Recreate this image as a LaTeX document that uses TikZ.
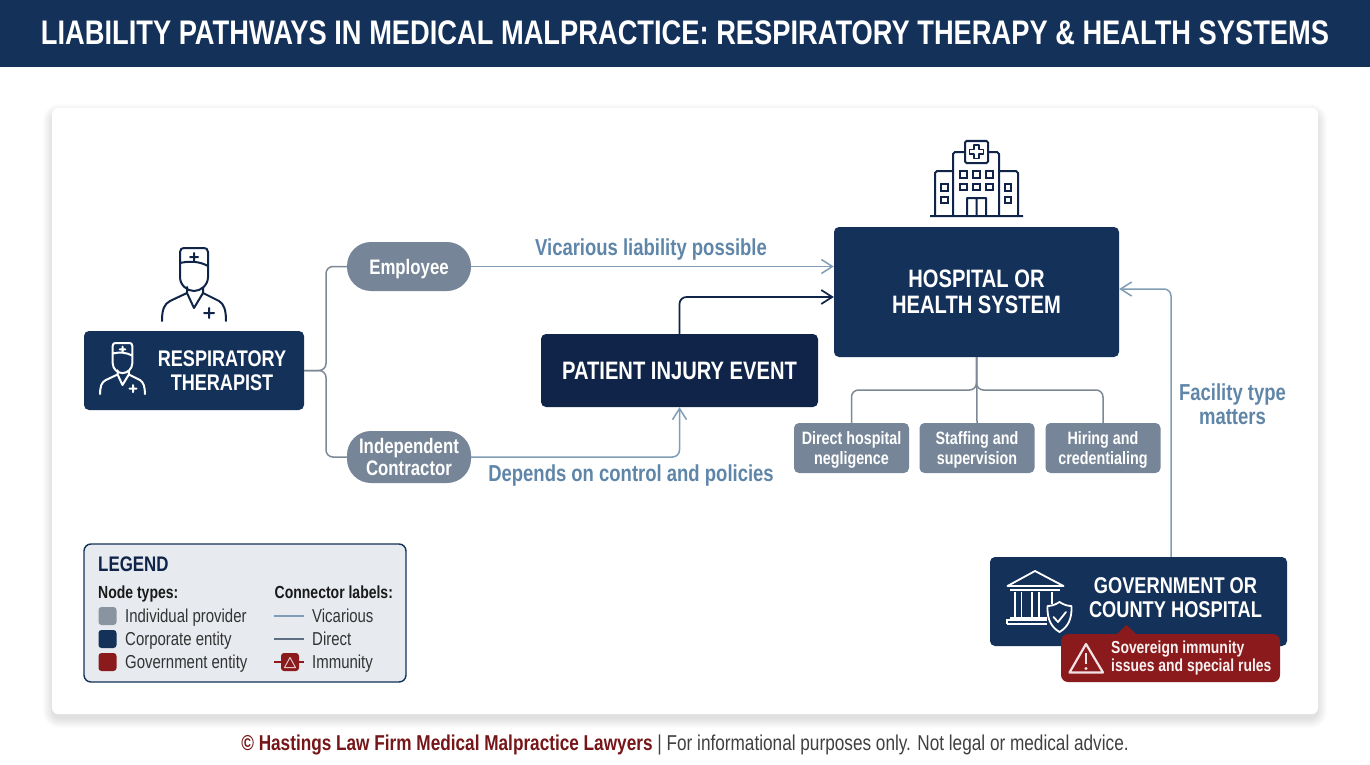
\documentclass[tikz,border=0pt]{standalone}
\usepackage{fontspec}
\setmainfont[FakeStretch=0.8]{Liberation Sans}
\usetikzlibrary{arrows.meta}

\definecolor{navy}{HTML}{14315A}
\definecolor{deepnavy}{HTML}{0F2448}
\definecolor{slategrey}{HTML}{768698}
\definecolor{swatchgrey}{HTML}{8A94A0}
\definecolor{wiregrey}{HTML}{7C8894}
\definecolor{steel}{HTML}{7F9DB6}
\definecolor{labelblue}{HTML}{5F86A9}
\definecolor{govred}{HTML}{8B1A1C}
\definecolor{legendfill}{HTML}{E7EAEF}

\tikzset{
  box/.style={draw=none,fill=navy,text=white,rounded corners=5pt,align=center,font=\bfseries\fontsize{25.2}{26}\selectfont},
  pillnode/.style={fill=slategrey,text=white,rounded corners=24pt,align=center,minimum width=124pt,text depth=0pt,font=\bfseries\fontsize{21}{22}\selectfont},
  subnode/.style={fill=slategrey,text=white,rounded corners=5pt,align=center,minimum width=115pt,minimum height=50pt,text depth=0pt,font=\bfseries\fontsize{17.9}{20}\selectfont},
  flowlabel/.style={text=labelblue,align=center,font=\bfseries\fontsize{23.1}{24}\selectfont},
  legendtext/.style={anchor=base west,text=black!80,font=\fontsize{18.7}{19}\selectfont},
  legendhead/.style={anchor=base west,text=black!90,font=\bfseries\fontsize{17.5}{19}\selectfont},
  swatch/.style={rounded corners=3pt,minimum size=18pt,inner sep=0pt},
  >={Straight Barb[length=11pt,width=14pt]},
  treeline/.style={draw=wiregrey,line width=1.5pt,rounded corners=7pt},
  softlink/.style={draw=steel,line width=1.5pt,rounded corners=7pt,->},
  hardlink/.style={draw=deepnavy,line width=1.7pt,rounded corners=7pt,->},
  nurseicon/.pic={
    \draw[pic actions,line width=2pt,line join=round,line cap=round]
      (-14,15) -- (-14,4) .. controls (-14,1) and (-12,0) .. (-10,0) -- (10,0) .. controls (12,0) and (14,1) .. (14,4) -- (14,18)
      (-14,15) .. controls (-5,13) and (5,13) .. (14,18)
      (-14,15) -- (-14,29) .. controls (-14,37) and (-7,43) .. (0,43) .. controls (7,43) and (14,37) .. (14,29) -- (14,18)
      (-7,39) -- (-7,45) -- (0,60) -- (9,45) -- (9,39)
      (-7,45) -- (-24,53) .. controls (-30,56) and (-32,62) .. (-32,73)
      (9,45) -- (25,53) .. controls (30,56) and (32,62) .. (32,73)
      (0,5) -- (0,13) (-4,9) -- (4,9)
      (15,60) -- (15,70) (10,65) -- (20,65);
  },
  hospitalicon/.pic={
    \draw[pic actions,line width=2pt,line join=round]
      (930,216) -- (1023,216)
      (935,216) -- (935,173) -- ++(2,-2) -- (953,171)
      (953,216) -- (953,154) -- ++(2,-2) -- (965,152)
      (988,152) -- (997,152) -- ++(2,2) -- (999,216)
      (999,171) -- (1016,171) -- ++(2,2) -- (1018,216)
      (967,216) -- (967,198) -- (986,198) -- (986,216) (976.5,198) -- (976.5,216);
    \draw[pic actions,line width=2pt,rounded corners=1.5pt] (965,141) rectangle (988,163);
    \draw[pic actions,line width=1.8pt,line join=round]
      (974,145) -- (979,145) -- (979,149.5) -- (983.5,149.5) -- (983.5,154) -- (979,154) -- (979,158.5) -- (974,158.5) -- (974,154) -- (969.5,154) -- (969.5,149.5) -- (974,149.5) -- cycle;
    \foreach \wx in {963.5,976.5,989.5}{
      \foreach \wy in {174.5,187}{
        \draw[pic actions,line width=1.8pt] (\wx-3.3,\wy-3.3) rectangle (\wx+3.3,\wy+3.3);}}
    \foreach \wx in {944.5,1008}{
      \foreach \wy in {187.5,200}{
        \draw[pic actions,line width=1.8pt] (\wx-3.3,\wy-3.3) rectangle (\wx+3.3,\wy+3.3);}}
  },
}

\begin{document}
\begin{tikzpicture}[x=1pt,y=-1pt]
\useasboundingbox (0,0) rectangle (1370,765);
\fill[white] (0,0) rectangle (1370,765);

% header and card
\fill[navy] (0,0) rectangle (1370,67);
\node[text=white,font=\bfseries\fontsize{34.1}{36}\selectfont] (title) at (685,33) {LIABILITY PATHWAYS IN MEDICAL MALPRACTICE: RESPIRATORY THERAPY \& HEALTH SYSTEMS};
\foreach \s in {9,8,7,6,5,4,3,2,1,0}{
  \fill[black,opacity=0.012,rounded corners=8pt+\s pt] (52-\s,108-\s+5) rectangle (1318+\s,714+\s+5);}
\fill[white,rounded corners=6pt] (52,108) rectangle (1318,714);

% main nodes
\node[box,minimum width=220pt,minimum height=79pt] (rt) at (194,370.5) {};
\node[box,font=\bfseries\fontsize{22.6}{24}\selectfont] (rtlabel) at (222,371) {RESPIRATORY\\THERAPIST};
\node[pillnode,minimum height=49pt] (emp) at (409,266.5) {Employee};
\node[pillnode,minimum height=52pt] (contractor) at (409,457) {Independent\\Contractor};
\node[box,fill=deepnavy,minimum width=277pt,minimum height=73pt] (injury) at (679.5,370.5) {PATIENT INJURY EVENT};
\node[box,minimum width=285pt,minimum height=130pt] (hospital) at (976.5,292) {HOSPITAL OR\\HEALTH SYSTEM};
\node[subnode] (negligence) at (851.5,448) {Direct hospital\\negligence};
\node[subnode] (staffing) at (977,448) {Staffing and\\supervision};
\node[subnode] (hiring) at (1103,448) {Hiring and\\credentialing};
\node[box,minimum width=297pt,minimum height=89pt] (gov) at (1138.5,601.5) {};
\node[box,font=\bfseries\fontsize{22.8}{24}\selectfont] (govlabel) at (1175.5,597.5) {GOVERNMENT OR\\COUNTY HOSPITAL};

% connectors
\coordinate (rtfork) at (326,370.5);
\draw[treeline] (rt.east) -- (rtfork) |- (emp.west);
\draw[treeline] (rt.east) -- (rtfork) |- (contractor.west);
\draw[softlink] (emp.east) -- (hospital.west |- emp.east);
\draw[softlink] (contractor.east) -| (injury.south);
\coordinate (hardin) at (hospital.west |- 0,297);
\draw[hardlink] (injury.north) |- (hardin);
\coordinate (subfork) at (976.5,390);
\draw[treeline] (hospital.south) -- (staffing.north);
\draw[treeline] (hospital.south) -- (subfork) -| (negligence.north);
\draw[treeline] (hospital.south) -- (subfork) -| (hiring.north);
\coordinate (facilityin) at (hospital.east |- 0,289);
\draw[softlink] (gov.north -| 1171,0) |- (facilityin);

\node[flowlabel] (vicariouslabel) at (651,250) {Vicarious liability possible};
\node[flowlabel] (dependslabel) at (631,476) {Depends on control and policies};
\node[flowlabel] (facilitylabel) at (1232.5,404) {Facility type\\matters};

% icons
\pic[draw=deepnavy] (bignurse) at (194,248) {nurseicon};
\pic[draw=white,scale=0.7] (smallnurse) at (122.5,343) {nurseicon};
\pic[draw=deepnavy] (hospicon) at (0,0) {hospitalicon};

% government icon
\draw[white,line width=1.8pt,line join=round] (1007.5,586) -- (1035,571) -- (1063.5,586) -- cycle;
\draw[white,line width=1.8pt] (1010,590) -- (1060,590)
  (1015,592) -- (1015,618) (1021.5,592) -- (1021.5,618)
  (1032,592) -- (1032,618) (1039,592) -- (1039,618)
  (1052,592) -- (1052,604)
  (1010,618) -- (1047,618) (1007,624) -- (1047,624) (1007,624) -- (1007,620) -- (1047,620);
\draw[white,fill=navy,line width=1.8pt,line join=round] (1059.5,602) .. controls (1064,605) and (1068,606) .. (1071.5,606)
  .. controls (1072,619) and (1068,627) .. (1059.5,632)
  .. controls (1051,627) and (1047,619) .. (1047.5,606)
  .. controls (1051,606) and (1055,605) .. (1059.5,602) -- cycle;
\draw[white,line width=1.8pt,line cap=round,line join=round] (1053.5,617) -- (1058,622) -- (1066,612);

% immunity callout
\fill[govred,rounded corners=7pt] (1061,634) rectangle (1280,682);
\fill[govred] (1116,635) -- (1126.5,625) -- (1137,635) -- cycle;
\draw[white!88!govred,line width=2.2pt,line join=round] (1069.5,672.5) -- (1086,644) -- (1103,672.5) -- cycle;
\draw[white!88!govred,line width=2.6pt] (1086,653) -- (1086,664);
\fill[white!88!govred] (1086,668.5) circle (1.6);
\node[anchor=west,text=white!94!govred,align=left,inner sep=0pt,font=\bfseries\fontsize{17.4}{18.5}\selectfont] (immunitylabel) at (1111,658) {Sovereign immunity\\issues and special rules};

% legend
\draw[navy,fill=legendfill,line width=1.4pt,rounded corners=7pt] (84,544) rectangle (406,682);
\node[anchor=base west,text=deepnavy,inner sep=0pt,font=\bfseries\fontsize{21.1}{25}\selectfont] (legendtitle) at (98,571.5) {LEGEND};
\node[legendhead,inner sep=0pt] (nodetypes) at (98,598) {Node types:};
\node[legendhead,inner sep=0pt] (connectortypes) at (274.5,598) {Connector labels:};
\node[swatch,fill=swatchgrey] (swatchone) at (107.5,616) {};
\node[swatch,fill=navy] (swatchtwo) at (107.5,639) {};
\node[swatch,fill=govred] (swatchthree) at (107.5,662) {};
\node[legendtext,inner sep=0pt] (itemone) at (125,622) {Individual provider};
\node[legendtext,inner sep=0pt] (itemtwo) at (125,645) {Corporate entity};
\node[legendtext,inner sep=0pt] (itemthree) at (125,668) {Government entity};
\coordinate (vicleft) at (274,616);
\coordinate (vicright) at (304,616);
\coordinate (dirleft) at (274,639);
\coordinate (dirright) at (304,639);
\coordinate (immleft) at (274,662);
\coordinate (immright) at (304,662);
\draw[steel,line width=1.2pt] (vicleft) -- (vicright);
\draw[wiregrey!70!navy,line width=1.2pt] (dirleft) -- (dirright);
\draw[govred,line width=1.2pt] (immleft) -- (immright);
\node[swatch,fill=govred] (immbadge) at (290,662) {};
\draw[white!75!govred,line width=1pt,line join=round] (284.5,667.5) -- (290,657.5) -- (295.5,667.5) -- cycle;
\node[legendtext,inner sep=0pt] (linkone) at (312,622) {Vicarious};
\node[legendtext,inner sep=0pt] (linktwo) at (312,645) {Direct};
\node[legendtext,inner sep=0pt] (linkthree) at (312,668) {Immunity};

% footer
\node[font=\fontsize{21.5}{23}\selectfont,text=black!75] (footer) at (685,745) {{\color{govred!85!black}\textbf{© Hastings Law Firm Medical Malpractice Lawyers}} | For informational purposes only. Not legal or medical advice.};
\end{tikzpicture}
\end{document}
